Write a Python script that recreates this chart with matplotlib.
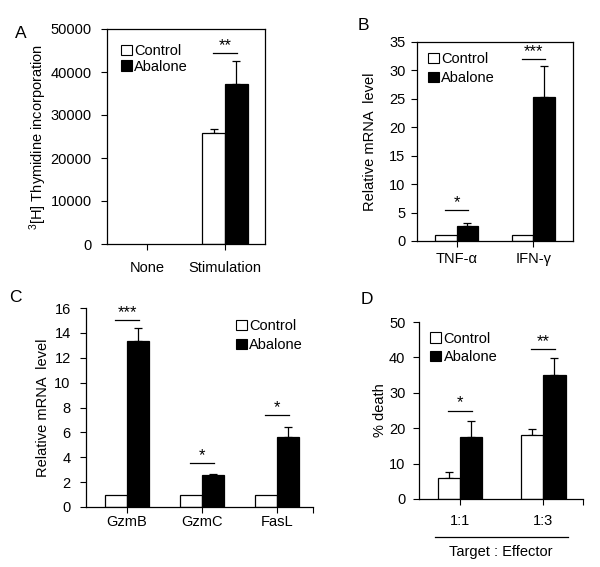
import matplotlib
matplotlib.use("Agg")
import matplotlib.pyplot as plt
from matplotlib.patches import Patch
import numpy as np

plt.rcParams['font.family'] = ['Liberation Sans', 'DejaVu Sans']
plt.rcParams['mathtext.default'] = 'regular'
plt.rcParams['font.size'] = 10.5

# ---------------- data ----------------
a_cats = ["None", "Stimulation"]
a_ctrl = [0, 25700]
a_ctrl_err = [0, 1000]
a_abal = [0, 37100]
a_abal_err = [0, 5400]

b_cats = ["TNF-\u03b1", "IFN-\u03b3"]
b_ctrl = [1.0, 1.0]
b_ctrl_err = [0, 0]
b_abal = [2.7, 25.3]
b_abal_err = [0.45, 5.4]

c_cats = ["GzmB", "GzmC", "FasL"]
c_ctrl = [1.0, 1.0, 1.0]
c_ctrl_err = [0, 0, 0]
c_abal = [13.35, 2.6, 5.65]
c_abal_err = [1.05, 0.08, 0.8]

d_cats = ["1:1", "1:3"]
d_ctrl = [5.9, 18.2]
d_ctrl_err = [1.6, 1.6]
d_abal = [17.6, 35.1]
d_abal_err = [4.3, 4.7]

a_sig = [(1, 44500, "**")]
b_sig = [(0, 5.5, "*"), (1, 32.0, "***")]
c_sig = [(0, 15.0, "***"), (1, 3.5, "*"), (2, 7.4, "*")]
d_sig = [(0, 25.0, "*"), (1, 42.3, "**")]

W, H = 600, 567
fig = plt.figure(figsize=(6, 5.67), dpi=100)


def make_ax(l, r, t, b):
    return fig.add_axes([l / W, 1 - b / H, (r - l) / W, (b - t) / H])


def panel(ax, cats, ctrl, ctrl_err, abal, abal_err, sigs, width, xlim,
          ylim, yticks, ylabel, box, legend_anchor, xpad, ypad, ylab_x, lspace):
    x = np.arange(len(cats))
    lw_c = [0.9 if v > 0 else 0 for v in ctrl]
    lw_a = [0.9 if v > 0 else 0 for v in abal]
    ax.bar(x - width / 2, ctrl, width, color="white", edgecolor="black",
           linewidth=lw_c, zorder=2)
    ax.bar(x + width / 2, abal, width, color="black", edgecolor="black",
           linewidth=lw_a, zorder=2)
    ce = np.array(ctrl_err, dtype=float)
    ae = np.array(abal_err, dtype=float)
    mc = ce > 0
    ma = ae > 0
    if mc.any():
        ax.errorbar((x - width / 2)[mc], np.array(ctrl)[mc],
                    yerr=[np.zeros(mc.sum()), ce[mc]], fmt="none",
                    ecolor="black", elinewidth=0.9, capsize=3, capthick=0.9,
                    zorder=1)
    if ma.any():
        ax.errorbar((x + width / 2)[ma], np.array(abal)[ma],
                    yerr=[np.zeros(ma.sum()), ae[ma]], fmt="none",
                    ecolor="black", elinewidth=0.9, capsize=3, capthick=0.9,
                    zorder=1)
    for i, y, s in sigs:
        ax.plot([i - width * 0.55, i + width * 0.55], [y, y], color="black",
                lw=0.9)
        ax.text(i, y, s, ha="center", va="bottom", fontsize=12)
    ax.set_xlim(*xlim)
    ax.set_ylim(*ylim)
    ax.set_yticks(yticks)
    ax.set_xticks(x)
    ax.set_xticklabels(cats)
    ax.tick_params(axis="both", direction="out", length=4, width=0.8,
                   labelsize=10.5)
    ax.tick_params(axis="x", pad=xpad)
    ax.tick_params(axis="y", pad=ypad)
    ax.set_ylabel(ylabel, fontsize=10.5)
    ax.yaxis.set_label_coords(ylab_x, 0.5)
    for sp in ax.spines.values():
        sp.set_linewidth(0.9)
    if not box:
        ax.spines["top"].set_visible(False)
        ax.spines["right"].set_visible(False)
        ax.set_xticks([xlim[1]], minor=True)
        ax.tick_params(axis="x", which="minor", direction="out", length=4,
                       width=0.8)
    handles = [Patch(facecolor="white", edgecolor="black", linewidth=0.8),
               Patch(facecolor="black", edgecolor="black", linewidth=0.8)]
    ax.legend(handles, ["Control", "Abalone"], loc="upper left",
              bbox_to_anchor=legend_anchor, frameon=False, handlelength=0.75,
              handleheight=0.75, handletextpad=0.15, labelspacing=lspace,
              borderaxespad=0, borderpad=0, fontsize=10.5)


axA = make_ax(107, 265, 29, 244)
panel(axA, a_cats, a_ctrl, a_ctrl_err, a_abal, a_abal_err, a_sig, 0.29,
      (-0.513, 1.513), (0, 50000), np.arange(0, 50001, 10000),
      "$^{3}$[H] Thymidine incorporation", True, (0.09, 0.93),
      8.6, 7.0, -0.367, 0.1)

axB = make_ax(417, 573, 42, 241)
panel(axB, b_cats, b_ctrl, b_ctrl_err, b_abal, b_abal_err, b_sig, 0.28,
      (-0.515, 1.515), (0, 35), np.arange(0, 36, 5),
      "Relative mRNA  level", True, (0.07, 0.95),
      3.6, 4.3, -0.256, 0.35)

axC = make_ax(86, 313, 308, 507)
panel(axC, c_cats, c_ctrl, c_ctrl_err, c_abal, c_abal_err, c_sig, 0.287,
      (-0.547, 2.48), (0, 16), np.arange(0, 17, 2),
      "Relative mRNA  level", False, (0.66, 0.945),
      1.5, 7.0, -0.159, 0.35)

axD = make_ax(419, 583, 322, 499)
panel(axD, d_cats, d_ctrl, d_ctrl_err, d_abal, d_abal_err, d_sig, 0.27,
      (-0.494, 1.48), (0, 50), np.arange(0, 51, 10),
      "% death", False, (0.07, 0.945),
      7.0, 5.8, -0.195, 0.3)

axD.plot([0.098, 0.909], [-0.215, -0.215], color="black", lw=0.9,
         transform=axD.transAxes, clip_on=False)
axD.text(0.5, -0.30, "Target : Effector", transform=axD.transAxes,
         ha="center", va="center", fontsize=10.5)

for lab, px, py in [("A", 21, 33), ("B", 363, 25), ("C", 15, 297), ("D", 367, 300)]:
    fig.text(px / W, 1 - py / H, lab, ha="center", va="center", fontsize=12.5)

fig.savefig("out.png", dpi=100)
